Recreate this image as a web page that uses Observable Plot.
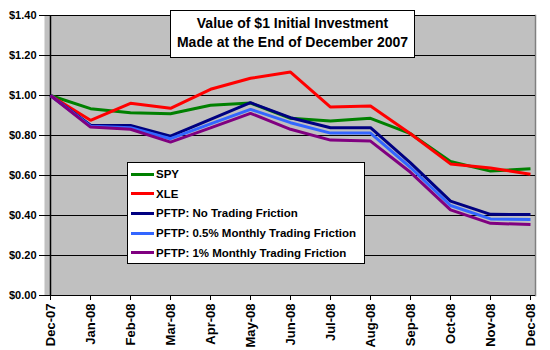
<!DOCTYPE html>
<html>
<head>
<meta charset="utf-8">
<script src="https://cdn.jsdelivr.net/npm/d3@7"></script>
<script src="https://cdn.jsdelivr.net/npm/@observablehq/plot@0.6"></script>
<style>
  html, body { margin: 0; padding: 0; background: #fff; }
  #wrap { position: relative; width: 550px; height: 350px; font-family: "Liberation Sans", Arial, sans-serif; }
  #title { position: absolute; left: 170px; top: 10px; width: 243px; height: 43px; background: #fff; border: 1px solid #000;
           font-weight: bold; font-size: 14px; text-align: center; line-height: 19px; padding-top: 3px; box-sizing: content-box; white-space: nowrap; }
  #legend { position: absolute; left: 127px; top: 162px; width: 236px; height: 100px; background: #fff; border: 1px solid #000; }
  .item { position: absolute; left: 3px; height: 20px; display: flex; align-items: center; font-weight: bold; font-size: 11.5px; white-space: nowrap; }
  .swatch { width: 23px; height: 3px; margin-right: 2px; }
</style>
</head>
<body>
<div id="wrap"></div>
<script>
const months = ["Dec-07","Jan-08","Feb-08","Mar-08","Apr-08","May-08","Jun-08","Jul-08","Aug-08","Sep-08","Oct-08","Nov-08","Dec-08"];
const spy    = [1.00, 0.934, 0.914, 0.909, 0.951, 0.962, 0.886, 0.872, 0.886, 0.809, 0.670, 0.622, 0.634];
const xle    = [1.00, 0.876, 0.961, 0.936, 1.031, 1.086, 1.117, 0.942, 0.947, 0.809, 0.658, 0.638, 0.606];
const pftp0  = [1.00, 0.851, 0.850, 0.797, 0.881, 0.964, 0.889, 0.839, 0.839, 0.663, 0.472, 0.406, 0.405];
const pftp05 = [1.00, 0.846, 0.839, 0.784, 0.858, 0.931, 0.864, 0.812, 0.812, 0.640, 0.450, 0.383, 0.380];
const pftp1  = [1.00, 0.842, 0.831, 0.767, 0.838, 0.911, 0.831, 0.777, 0.772, 0.616, 0.428, 0.361, 0.355];
const seriesNames = ["SPY", "XLE", "PFTP: No Trading Friction", "PFTP: 0.5% Monthly Trading Friction", "PFTP: 1% Monthly Trading Friction"];
const seriesColors = ["#008000", "#FF0000", "#000080", "#3366FF", "#800080"];
const yTicks = [0, 0.2, 0.4, 0.6, 0.8, 1.0, 1.2, 1.4];
const titleLines = ["Value of $1 Initial Investment", "Made at the End of December 2007"];

const seriesValues = [spy, xle, pftp0, pftp05, pftp1];
const rows = [];
seriesValues.forEach((vals, s) => vals.forEach((v, i) => rows.push({series: seriesNames[s], month: months[i], value: v})));

const chart = Plot.plot({
  width: 550,
  height: 350,
  marginLeft: 44,
  marginRight: 15,
  marginTop: 15,
  marginBottom: 55,
  style: {fontFamily: "'Liberation Sans', Arial, sans-serif", fontSize: "11px", fontWeight: "bold", background: "#fff", color: "#000"},
  x: {type: "point", domain: months, padding: 0, label: null},
  y: {domain: [0, 1.4], label: null},
  color: {domain: seriesNames, range: seriesColors},
  marks: [
    Plot.frame({fill: "#C0C0C0"}),
    Plot.frame({anchor: "right", stroke: "#808080", strokeWidth: 1.5}),
    Plot.ruleY(yTicks, {stroke: "#000", strokeWidth: 1}),
    Plot.ruleX([months[0]], {stroke: "#000", strokeWidth: 1.5}),
    Plot.axisY({ticks: yTicks, tickFormat: d => "$" + d.toFixed(2), tickSize: 5, tickPadding: 3, stroke: "#000", fontWeight: "bold", fontSize: 11, label: null}),
    Plot.axisX({tickRotate: -90, tickSize: 5, tickPadding: 3, stroke: "#000", fontWeight: "bold", fontSize: 13, label: null}),
    Plot.line(rows, {x: "month", y: "value", z: "series", stroke: "series", strokeWidth: 3, strokeLinejoin: "miter", strokeLinecap: "butt"})
  ]
});

const wrap = document.getElementById("wrap");
wrap.appendChild(chart);

const title = document.createElement("div");
title.id = "title";
title.innerHTML = titleLines.map(t => `<div>${t.replace(/\$/g, "&#36;")}</div>`).join("");
wrap.appendChild(title);

const legend = document.createElement("div");
legend.id = "legend";
seriesNames.forEach((name, i) => {
  const item = document.createElement("div");
  item.className = "item";
  item.style.top = (1 + i * 19.7) + "px";
  const sw = document.createElement("div");
  sw.className = "swatch";
  sw.style.background = seriesColors[i];
  const label = document.createElement("span");
  label.textContent = name;
  item.appendChild(sw);
  item.appendChild(label);
  legend.appendChild(item);
});
wrap.appendChild(legend);
</script>
</body>
</html>
